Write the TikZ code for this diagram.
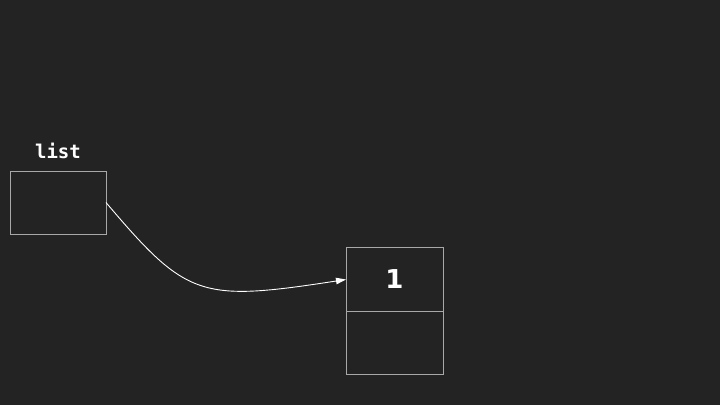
\documentclass[tikz,border=0pt]{standalone}
\usepackage{fontspec}
\setmonofont{DejaVu Sans Mono}
\setsansfont{DejaVu Sans}
\usetikzlibrary{positioning,arrows.meta}
\definecolor{bgcol}{HTML}{232323}
\definecolor{edgecol}{HTML}{A8A8A8}
\begin{document}
\begin{tikzpicture}[x=1pt,y=-1pt,
    every node/.style={inner sep=0pt,outer sep=0pt},
    cell/.style={draw=edgecol,line width=0.8pt,minimum width=97pt,minimum height=63.5pt},
    link/.style={draw=white,line width=0.9pt,-{Triangle[length=10pt,width=6.5pt]}}]
      %Notation: pixel units, y grows downwards
      \fill[bgcol] (0,0) rectangle (720,405);
      \useasboundingbox (0,0) rectangle (720,405);

      % The pointer variable
      \node[cell,minimum width=96pt,minimum height=63pt] (listbox) at (58,202.5) {};
      \node[white,font=\ttfamily\bfseries\fontsize{19}{20}\selectfont,above=12pt of listbox] (listname) {list};

      % The list node: value cell and next cell
      \node[cell] (valcell) at (394.5,279.5) {};
      \node[cell,below=0pt of valcell] (nextcell) {};
      \node[white,font=\sffamily\bfseries\fontsize{26}{28}\selectfont] (val) at (valcell.center) {1};

      % Draw the pointer
      \draw[link] (listbox.east) .. controls (187,298) and (200,302) .. (valcell.west);
    \end{tikzpicture}
\end{document}
